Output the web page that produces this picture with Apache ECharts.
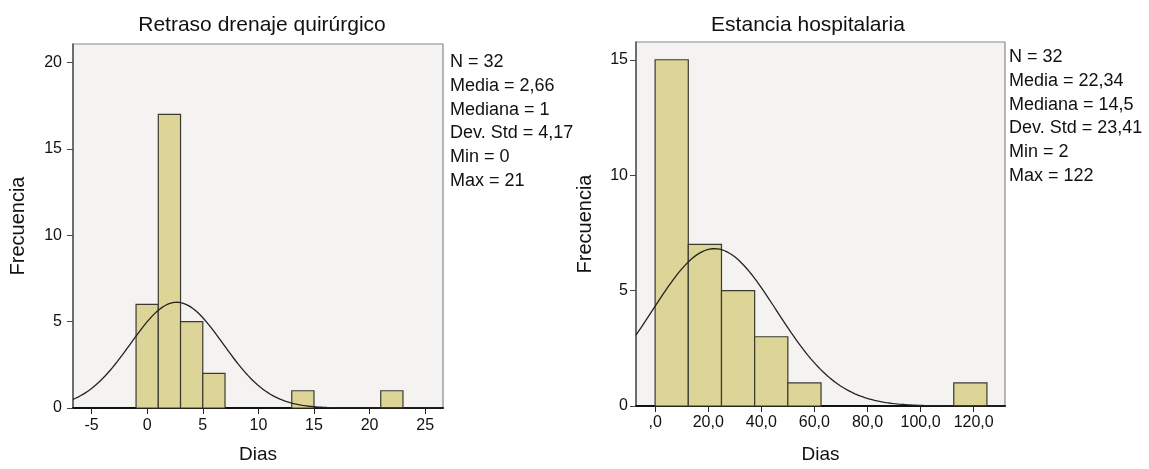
<!DOCTYPE html>
<html>
<head>
<meta charset="utf-8">
<script src="https://cdn.jsdelivr.net/npm/echarts@6/dist/echarts.min.js"></script>
<style>
  html, body { margin: 0; padding: 0; background: #ffffff; }
  #chart { width: 1149px; height: 469px; }
</style>
</head>
<body>
<div id="chart"></div>
<script>
// ---- Data ----
const leftTitle = "Retraso drenaje quirúrgico";
const rightTitle = "Estancia hospitalaria";
const yAxisName = "Frecuencia";
const xAxisName = "Dias";

const leftBinStarts = [-1, 1, 3, 5, 13, 21];
const leftCounts = [6, 17, 5, 2, 1, 1];
const leftBinWidth = 2;
const leftN = 32, leftMean = 2.66, leftSd = 4.17;
const leftStatLines = ["N = 32", "Media = 2,66", "Mediana = 1", "Dev. Std = 4,17", "Min = 0", "Max = 21"];
const leftXTicks = [-5, 0, 5, 10, 15, 20, 25];
const leftYTicks = [0, 5, 10, 15, 20];

const rightBinStarts = [0, 12.5, 25, 37.5, 50, 112.5];
const rightCounts = [15, 7, 5, 3, 1, 1];
const rightBinWidth = 12.5;
const rightN = 32, rightMean = 22.34, rightSd = 23.41;
const rightStatLines = ["N = 32", "Media = 22,34", "Mediana = 14,5", "Dev. Std = 23,41", "Min = 2", "Max = 122"];
const rightXTicks = [0, 20, 40, 60, 80, 100, 120];
const rightYTicks = [0, 5, 10, 15];

// ---- Helpers ----
const FONT = '"Liberation Sans", Arial, Helvetica, sans-serif';
const BAR_FILL = '#ddd597';
const BAR_STROKE = '#3b3a2e';

function barData(starts, counts, w) {
  return starts.map((s, i) => [s, s + w, counts[i]]);
}
function normalCurve(n, w, mean, sd, xmin, xmax) {
  const pts = [];
  const steps = 300;
  for (let i = 0; i <= steps; i++) {
    const x = xmin + (xmax - xmin) * i / steps;
    const z = (x - mean) / sd;
    pts.push([x, n * w * Math.exp(-0.5 * z * z) / (sd * Math.sqrt(2 * Math.PI))]);
  }
  return pts;
}
function renderBar(params, api) {
  const p0 = api.coord([api.value(0), api.value(2)]);
  const p1 = api.coord([api.value(1), 0]);
  return {
    type: 'rect',
    shape: { x: p0[0], y: p0[1], width: p1[0] - p0[0], height: p1[1] - p0[1] },
    style: { fill: BAR_FILL, stroke: BAR_STROKE, lineWidth: 1.2 }
  };
}

const L = { xmin: -6.67, xmax: 26.6, ymax: 21.08 };
const R = { xmin: -7.2, xmax: 131.8, ymax: 15.77 };

function xAxisCfg(grid, ext, ticks, fmt, margin, gap) {
  return {
    type: 'value', gridIndex: grid, min: ext.xmin, max: ext.xmax,
    name: xAxisName, nameLocation: 'middle', nameGap: gap,
    nameTextStyle: { fontFamily: FONT, fontSize: 19, color: '#111' },
    axisLine: { show: true, onZero: false, lineStyle: { color: '#111', width: 2 } },
    axisTick: { show: true, customValues: ticks, length: 6, lineStyle: { color: '#222', width: 1 } },
    axisLabel: { customValues: ticks, margin: margin, fontFamily: FONT, fontSize: 16, color: '#111', formatter: fmt },
    splitLine: { show: false }
  };
}
function yAxisCfg(grid, ext, ticks, margin, gap) {
  return {
    type: 'value', gridIndex: grid, min: 0, max: ext.ymax,
    name: yAxisName, nameLocation: 'middle', nameGap: gap,
    nameTextStyle: { fontFamily: FONT, fontSize: 20, color: '#111' },
    axisLine: { show: true, onZero: false, lineStyle: { color: '#555', width: 1.5 } },
    axisTick: { show: true, customValues: ticks, length: 6, lineStyle: { color: '#444', width: 1 } },
    axisLabel: { customValues: ticks, margin: margin, fontFamily: FONT, fontSize: 16, color: '#111' },
    splitLine: { show: false }
  };
}

const graphics = [
  { type: 'text', x: 262, y: 25, style: { text: leftTitle, font: '21px ' + FONT, fill: '#111', align: 'center', verticalAlign: 'middle' } },
  { type: 'text', x: 808, y: 25, style: { text: rightTitle, font: '21px ' + FONT, fill: '#111', align: 'center', verticalAlign: 'middle' } }
];
leftStatLines.forEach((t, i) => graphics.push({
  type: 'text', x: 450, y: 62 + i * 23.8,
  style: { text: t, font: '18px ' + FONT, fill: '#111', align: 'left', verticalAlign: 'middle' }
}));
rightStatLines.forEach((t, i) => graphics.push({
  type: 'text', x: 1009, y: 57 + i * 23.8,
  style: { text: t, font: '18px ' + FONT, fill: '#111', align: 'left', verticalAlign: 'middle' }
}));

const chart = echarts.init(document.getElementById('chart'), null, { renderer: 'canvas' });
chart.setOption({
  animation: false,
  backgroundColor: '#ffffff',
  grid: [
    { left: 73, top: 44, width: 370, height: 371, show: true, backgroundColor: '#f4f3f1', borderColor: '#8a8a8a', borderWidth: 1.2 },
    { left: 636, top: 42, width: 369, height: 370, show: true, backgroundColor: '#f4f3f1', borderColor: '#8a8a8a', borderWidth: 1.2 }
  ],
  xAxis: [
    xAxisCfg(0, L, leftXTicks, v => String(v), 10, 37),
    xAxisCfg(1, R, rightXTicks, v => v === 0 ? ',0' : v.toFixed(1).replace('.', ','), 9, 39)
  ],
  yAxis: [
    yAxisCfg(0, L, leftYTicks, 11, 45),
    yAxisCfg(1, R, rightYTicks, 8, 41)
  ],
  graphic: graphics,
  series: [
    { type: 'custom', xAxisIndex: 0, yAxisIndex: 0, renderItem: renderBar, encode: { x: [0, 1], y: 2 },
      data: barData(leftBinStarts, leftCounts, leftBinWidth), z: 2 },
    { type: 'line', xAxisIndex: 0, yAxisIndex: 0, showSymbol: false, symbol: 'none', z: 3,
      lineStyle: { color: '#222', width: 1.3 }, data: normalCurve(leftN, leftBinWidth, leftMean, leftSd, L.xmin, L.xmax) },
    { type: 'custom', xAxisIndex: 1, yAxisIndex: 1, renderItem: renderBar, encode: { x: [0, 1], y: 2 },
      data: barData(rightBinStarts, rightCounts, rightBinWidth), z: 2 },
    { type: 'line', xAxisIndex: 1, yAxisIndex: 1, showSymbol: false, symbol: 'none', z: 3,
      lineStyle: { color: '#222', width: 1.3 }, data: normalCurve(rightN, rightBinWidth, rightMean, rightSd, R.xmin, R.xmax) }
  ]
});
</script>
</body>
</html>
